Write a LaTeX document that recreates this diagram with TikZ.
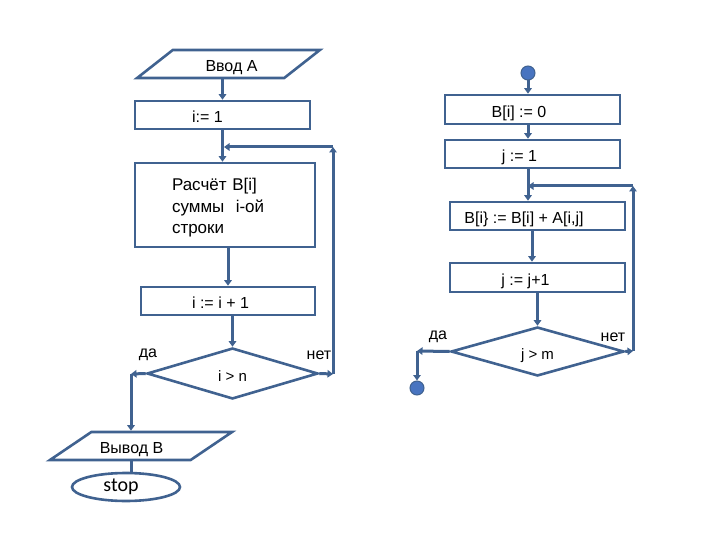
\documentclass[tikz,border=0pt]{standalone}
\usepackage{fontspec}
\setmainfont{Liberation Sans}
\newfontfamily\calibri{Carlito}
\usetikzlibrary{shapes.geometric,arrows.meta}
\definecolor{flowline}{RGB}{64,98,144}
\definecolor{dotfill}{RGB}{72,116,192}

\tikzset{%
  block/.style={
    rectangle,
    draw=flowline,
    line width=2.6pt,
    minimum width=175pt,
    minimum height=28pt,
    inner sep=0pt,
    text height=15.5pt,
    text depth=0pt,
    font=\fontsize{16}{19}\selectfont
  },
  io/.style={
    trapezium,
    trapezium left angle=38,
    trapezium right angle=142,
    trapezium stretches=true,
    draw=flowline,
    line width=2.6pt,
    minimum width=183pt,
    minimum height=28pt,
    inner sep=0pt,
    text height=14.5pt,
    text depth=0pt,
    font=\fontsize{16}{19}\selectfont
  },
  test/.style={
    diamond,
    draw=flowline,
    line width=2.6pt,
    minimum width=171pt,
    minimum height=51pt,
    inner sep=0pt,
    text height=15pt,
    text depth=0pt,
    font=\fontsize{15}{18}\selectfont
  },
  terminal/.style={
    ellipse,
    draw=flowline,
    line width=2.6pt,
    minimum width=108pt,
    minimum height=28pt,
    inner sep=0pt,
    font=\calibri\fontsize{20}{24}\selectfont
  },
  dot/.style={
    circle,
    fill=dotfill,
    draw=flowline,
    line width=1pt,
    minimum size=14pt,
    inner sep=0pt
  },
  lead/.style={execute at begin node={\hspace*{#1}}},
  answer/.style={font=\fontsize{16}{19}\selectfont},
  flow/.style={draw=flowline, line width=3pt, -{Triangle[length=5.5pt,width=7.5pt]}},
  link/.style={draw=flowline, line width=3pt},
}

\begin{document}
\begin{tikzpicture}[x=1pt,y=-1pt]
\useasboundingbox (0,0) rectangle (720,540);
% left part
\node[io, lead=6pt] (vvodA) at (228.5,64) {Ввод A};
\node[block, lead=-30pt] (i1) at (222.5,115) {i:= 1};
\node[block, minimum width=180pt, minimum height=84pt, text width=106pt,
  text height=, text depth=, align=left,
  font=\fontsize{17}{21.5}\selectfont] (calc) at (225,205)
  {\rule{0pt}{18.5pt}Расчёт B[i]\\суммы\ \ i-ой\\строки};
\node[block, minimum width=174pt, lead=-15pt] (inc) at (228,301) {i := i + 1};
\node[test] (cond) at (232.5,373.5) {i > n};
\node[io, lead=-19pt] (vyvodB) at (141,446) {Вывод B};
\node[terminal, lead=-10pt] (stop) at (126,487) {stop};
\node[answer] (yes) at (148,355) {да};
\node[answer] (no) at (319,355) {нет};
\coordinate (noR) at (333,374);
\coordinate (noT) at (333,147);
\coordinate (noL) at (224,147);
\coordinate (yesL) at (131,374);

\draw[flow] (i1.north |- vvodA.south) -- (i1.north);
\draw[flow] (i1.south) -- (i1.south |- calc.north);
\draw[flow] (calc.south -| inc.north) -- (inc.north);
\draw[flow] (inc.south -| cond.north) -- (cond.north);
\draw[flow] (cond.east) -- (noR);
\draw[flow] (noR) -- (noT);
\draw[flow] (noT) -- (noL);
\draw[flow] (cond.west) -- (yesL);
\draw[flow] (yesL) -- (yesL |- vyvodB.north);
\draw[link] (yesL |- vyvodB.south) -- (yesL |- stop.north);

% right part
\node[dot] (start) at (528,73) {};
\node[block, minimum height=29pt, lead=-27pt] (b0) at (532.5,109.5) {B[i] := 0};
\node[block, lead=-26pt] (j1) at (532.5,154) {j := 1};
\node[block, lead=-27pt] (sum) at (537.5,216) {B[i\} := B[i] + A[i,j]};
\node[block, minimum height=29pt, lead=-24pt] (jinc) at (537.5,277.5) {j := j+1};
\node[test, minimum width=173pt, minimum height=49pt] (cond2) at (537.5,351.5) {j > m};
\node[dot] (finish) at (417,388) {};
\node[answer] (yes2) at (438,337) {да};
\node[answer] (no2) at (613,337) {нет};
\coordinate (no2R) at (633,351);
\coordinate (no2T) at (633,186);
\coordinate (no2L) at (528,186);
\coordinate (yes2L) at (417,351);

\draw[flow] (start) -- (start |- b0.north);
\draw[flow] (start |- b0.south) -- (start |- j1.north);
\draw[flow] (start |- j1.south) -- (start |- sum.north);
\draw[flow] ([xshift=-5.5pt]sum.south) -- ([xshift=-5.5pt]jinc.north);
\draw[flow] (jinc.south -| cond2.north) -- (cond2.north);
\draw[flow] (cond2.east) -- (no2R);
\draw[flow] (no2R) -- (no2T);
\draw[flow] (no2T) -- (no2L);
\draw[flow] (cond2.west) -- (yes2L);
\draw[flow] (yes2L) -- (finish);
\end{tikzpicture}
\end{document}
